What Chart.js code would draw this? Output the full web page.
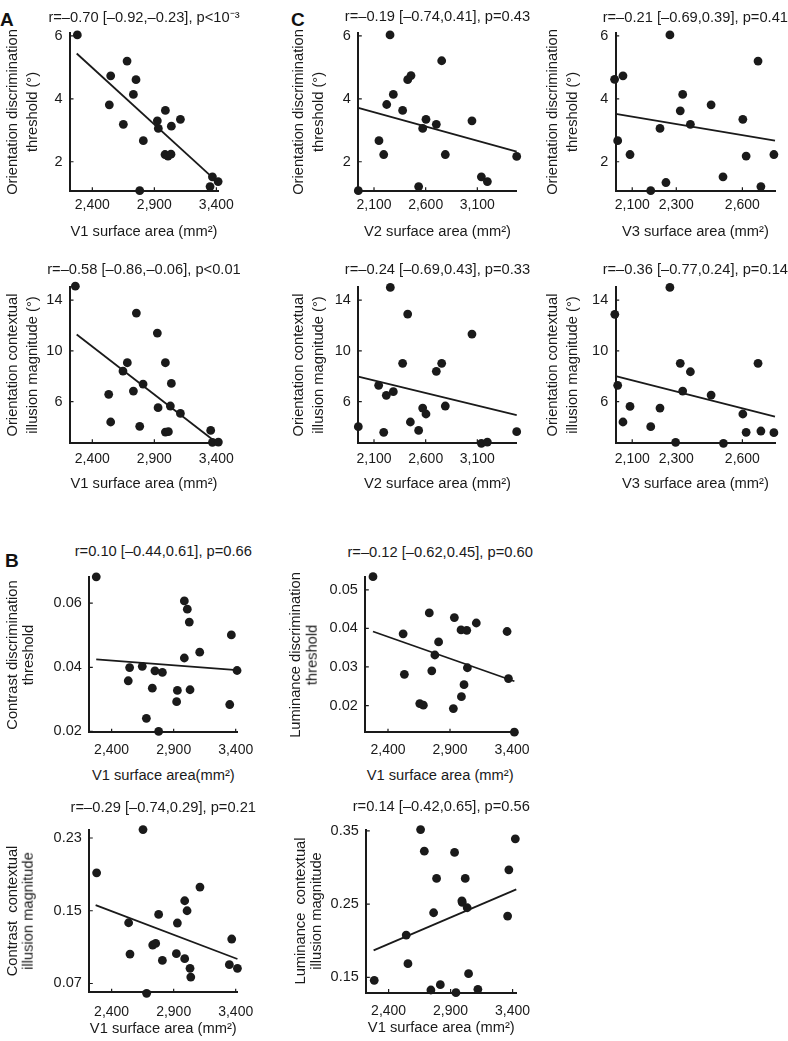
<!DOCTYPE html>
<html><head><meta charset="utf-8">
<script src="https://cdn.jsdelivr.net/npm/chart.js"></script>
<style>
html,body{margin:0;padding:0;background:#fff;}
#fig{position:relative;width:788px;height:1041px;overflow:hidden;background:#fff;}
#fig canvas{position:absolute;}
.t{position:absolute;white-space:pre;font-family:'Liberation Sans',Arial,Helvetica,sans-serif;font-size:14.7px;line-height:1;color:#1a1a1a;transform:translate(-50%,-50%);}
.r{transform:translate(-50%,-50%) rotate(-90deg);}
.lab{position:absolute;font:bold 19px 'Liberation Sans',Arial,sans-serif;line-height:19px;color:#111;}
</style></head><body><div id="fig">
<div class="lab" style="left:0px;top:10px">A</div>
<div class="lab" style="left:291px;top:10px">C</div>
<div class="lab" style="left:5px;top:551px">B</div>
</div>
<script>
// ---------------- data ----------------
const v1Ticks = [2400, 2900, 3400];
const v1TickLabels = ['2,400', '2,900', '3,400'];
const v2Ticks = [2100, 2600, 3100];
const v2TickLabels = ['2,100', '2,600', '3,100'];
const v3Ticks = [2100, 2300, 2600];
const v3TickLabels = ['2,100', '2,300', '2,600'];
const oriThrTicks = [2, 4, 6];
const oriThrTickLabels = ['2', '4', '6'];
const oriIllTicks = [6, 10, 14];
const oriIllTickLabels = ['6', '10', '14'];
const conThrTicks = [0.02, 0.04, 0.06];
const conThrTickLabels = ['0.02', '0.04', '0.06'];
const lumThrTicks = [0.02, 0.03, 0.04, 0.05];
const lumThrTickLabels = ['0.02', '0.03', '0.04', '0.05'];
const conIllTicks = [0.07, 0.15, 0.23];
const conIllTickLabels = ['0.07', '0.15', '0.23'];
const lumIllTicks = [0.15, 0.25, 0.35];
const lumIllTickLabels = ['0.15', '0.25', '0.35'];

// A: V1 vs orientation discrimination threshold
const a1X = [2279, 2548, 2680, 2752, 2731, 2537, 2650, 2811, 2782, 2924, 2932, 2989, 3037, 3110, 2986, 3010, 3034, 3368, 3349, 3414];
const a1Y = [6.03, 4.73, 5.20, 4.61, 4.14, 3.81, 3.19, 2.67, 1.08, 3.30, 3.06, 3.63, 3.13, 3.35, 2.23, 2.18, 2.24, 1.52, 1.21, 1.37];
const a1FitX = [2274, 3376];
const a1FitY = [5.44, 1.47];
// A: V1 vs orientation contextual illusion
const a2X = [2263, 2755, 2924, 2682, 2989, 2647, 2809, 2731, 3037, 2532, 2930, 3029, 3110, 2548, 2782, 2989, 3013, 3354, 3368, 3416];
const a2Y = [15.1, 12.98, 11.41, 9.07, 9.07, 8.41, 7.39, 6.84, 7.44, 6.58, 5.53, 5.66, 5.08, 4.40, 4.06, 3.61, 3.64, 3.74, 2.80, 2.82];
const a2FitX = [2274, 3392];
const a2FitY = [11.30, 2.85];
// C: V2 vs orientation threshold
const c1X = [2255, 1948, 2148, 2194, 2223, 2287, 2377, 2426, 2458, 2532, 2571, 2603, 2703, 2755, 2790, 3048, 3139, 3197, 3481];
const c1Y = [6.03, 1.08, 2.67, 2.23, 3.82, 4.14, 3.63, 4.61, 4.74, 1.21, 3.06, 3.35, 3.19, 5.21, 2.23, 3.30, 1.52, 1.37, 2.17];
const c1FitX = [1948, 3481];
const c1FitY = [3.71, 2.32];
// C: V3 vs orientation threshold
const c2X = [2020, 2058, 2271, 2671, 2034, 2090, 2184, 2226, 2253, 2318, 2329, 2364, 2458, 2512, 2602, 2617, 2684, 2743];
const c2Y = [4.62, 4.73, 6.03, 5.20, 2.67, 2.23, 1.08, 3.06, 1.34, 3.62, 4.14, 3.19, 3.81, 1.52, 3.35, 2.18, 1.21, 2.23];
const c2FitX = [2025, 2748];
const c2FitY = [3.52, 2.67];
// C: V2 vs orientation illusion
const c3X = [2258, 2426, 3048, 2377, 2755, 2703, 2145, 2219, 2287, 2571, 2603, 2790, 2452, 2532, 2194, 1948, 3139, 3197, 3481];
const c3Y = [15.0, 12.9, 11.33, 9.02, 9.02, 8.39, 7.29, 6.50, 6.79, 5.50, 5.03, 5.66, 4.40, 3.74, 3.59, 4.03, 2.72, 2.82, 3.64];
const c3FitX = [1948, 3481];
const c3FitY = [7.97, 4.95];
// C: V3 vs orientation illusion
const c4X = [2021, 2271, 2034, 2318, 2364, 2671, 2329, 2458, 2090, 2226, 2058, 2184, 2602, 2617, 2684, 2743, 2297, 2514];
const c4Y = [12.88, 15.0, 7.29, 9.02, 8.36, 9.02, 6.84, 6.52, 5.63, 5.50, 4.40, 4.03, 5.03, 3.59, 3.69, 3.56, 2.80, 2.72];
const c4FitX = [2025, 2748];
const c4FitY = [8.02, 4.82];
// B: contrast discrimination threshold
const b1X = [2276, 2986, 3010, 3026, 3365, 3110, 2986, 2545, 2647, 2749, 2809, 3411, 2534, 2728, 2930, 3032, 2924, 3352, 2680, 2779];
const b1Y = [0.0682, 0.0607, 0.0581, 0.0541, 0.0501, 0.0447, 0.0429, 0.0399, 0.0403, 0.0389, 0.0384, 0.0390, 0.0358, 0.0335, 0.0328, 0.0330, 0.0293, 0.0284, 0.0241, 0.0200];
const b1FitX = [2276, 3411];
const b1FitY = [0.0425, 0.0391];
// B: luminance discrimination threshold
const b2X = [2279, 2733, 2935, 3112, 2989, 3035, 3360, 2522, 2808, 2778, 2753, 3040, 2532, 3371, 3013, 2992, 2656, 2685, 2927, 3419];
const b2Y = [0.0534, 0.0440, 0.0428, 0.0414, 0.0396, 0.0395, 0.0392, 0.0386, 0.0365, 0.0331, 0.0290, 0.0298, 0.0281, 0.0270, 0.0254, 0.0223, 0.0205, 0.0201, 0.0192, 0.0131];
const b2FitX = [2279, 3419];
const b2FitY = [0.0392, 0.0263];
// B: contrast contextual illusion
const b3X = [2653, 2279, 3112, 2989, 3008, 2779, 2930, 2537, 3368, 2731, 2755, 2548, 2922, 2989, 2809, 3349, 3414, 3032, 3038, 2682];
const b3Y = [0.2393, 0.1917, 0.176, 0.161, 0.150, 0.146, 0.1365, 0.1368, 0.1189, 0.1123, 0.1141, 0.1024, 0.1028, 0.0973, 0.0954, 0.0907, 0.0867, 0.0867, 0.0771, 0.0592];
const b3FitX = [2271, 3414];
const b3FitY = [0.1562, 0.0969];
// B: luminance contextual illusion
const b4X = [2658, 3422, 2688, 2932, 3370, 2787, 3018, 2991, 2994, 3034, 2763, 3360, 2542, 2556, 2284, 3045, 2817, 2741, 3120, 2943];
const b4Y = [0.3518, 0.3391, 0.3223, 0.3205, 0.2968, 0.285, 0.285, 0.2545, 0.2523, 0.245, 0.2382, 0.2336, 0.2077, 0.1686, 0.1459, 0.155, 0.14, 0.1327, 0.1336, 0.1291];
const b4FitX = [2279, 3430];
const b4FitY = [0.1868, 0.270];

// ---------------- panel definitions ----------------
const PANELS = [
  {key:'A1', xs:a1X, ys:a1Y, fx:a1FitX, fy:a1FitY, xr:[2220,3413], yr:[1.08,6.086], xt:v1Ticks, xl:v1TickLabels, yt:oriThrTicks, yl:oriThrTickLabels,
   title:'r=–0.70 [–0.92,–0.23], p<10⁻³', xTitle:'V1 surface area (mm²)', yTitle:['Orientation discrimination','threshold (°)']},
  {key:'A2', xs:a2X, ys:a2Y, fx:a2FitX, fy:a2FitY, xr:[2220,3413], yr:[2.77,15.06], xt:v1Ticks, xl:v1TickLabels, yt:oriIllTicks, yl:oriIllTickLabels,
   title:'r=–0.58 [–0.86,–0.06], p<0.01', xTitle:'V1 surface area (mm²)', yTitle:['Orientation contextual','illusion magnitude (°)']},
  {key:'C1', xs:c1X, ys:c1Y, fx:c1FitX, fy:c1FitY, xr:[1948,3481], yr:[1.08,6.086], xt:v2Ticks, xl:v2TickLabels, yt:oriThrTicks, yl:oriThrTickLabels,
   title:'r=–0.19 [–0.74,0.41], p=0.43', xTitle:'V2 surface area (mm²)', yTitle:['Orientation discrimination','threshold (°)']},
  {key:'C2', xs:c2X, ys:c2Y, fx:c2FitX, fy:c2FitY, xr:[2025,2748], yr:[1.08,6.086], xt:v3Ticks, xl:v3TickLabels, yt:oriThrTicks, yl:oriThrTickLabels,
   title:'r=–0.21 [–0.69,0.39], p=0.41', xTitle:'V3 surface area (mm²)', yTitle:['Orientation discrimination','threshold (°)']},
  {key:'C3', xs:c3X, ys:c3Y, fx:c3FitX, fy:c3FitY, xr:[1948,3481], yr:[2.77,15.06], xt:v2Ticks, xl:v2TickLabels, yt:oriIllTicks, yl:oriIllTickLabels,
   title:'r=–0.24 [–0.69,0.43], p=0.33', xTitle:'V2 surface area (mm²)', yTitle:['Orientation contextual','illusion magnitude (°)']},
  {key:'C4', xs:c4X, ys:c4Y, fx:c4FitX, fy:c4FitY, xr:[2025,2748], yr:[2.77,15.06], xt:v3Ticks, xl:v3TickLabels, yt:oriIllTicks, yl:oriIllTickLabels,
   title:'r=–0.36 [–0.77,0.24], p=0.14', xTitle:'V3 surface area (mm²)', yTitle:['Orientation contextual','illusion magnitude (°)']},
  {key:'B1', xs:b1X, ys:b1Y, fx:b1FitX, fy:b1FitY, xr:[2220,3413], yr:[0.01974,0.06805], xt:v1Ticks, xl:v1TickLabels, yt:conThrTicks, yl:conThrTickLabels,
   title:'r=0.10 [–0.44,0.61], p=0.66', xTitle:'V1 surface area(mm²)', yTitle:['Contrast discrimination','threshold']},
  {key:'B2', xs:b2X, ys:b2Y, fx:b2FitX, fy:b2FitY, xr:[2217,3424], yr:[0.01306,0.05325], xt:v1Ticks, xl:v1TickLabels, yt:lumThrTicks, yl:lumThrTickLabels,
   title:'r=–0.12 [–0.62,0.45], p=0.60', xTitle:'V1 surface area (mm²)', yTitle:['Luminance discrimination','threshold']},
  {key:'B3', xs:b3X, ys:b3Y, fx:b3FitX, fy:b3FitY, xr:[2220,3413], yr:[0.0603,0.2386], xt:v1Ticks, xl:v1TickLabels, yt:conIllTicks, yl:conIllTickLabels,
   title:'r=–0.29 [–0.74,0.29], p=0.21', xTitle:'V1 surface area (mm²)', yTitle:['Contrast  contextual','illusion magnitude']},
  {key:'B4', xs:b4X, ys:b4Y, fx:b4FitX, fy:b4FitY, xr:[2220,3430], yr:[0.1293,0.3509], xt:v1Ticks, xl:v1TickLabels, yt:lumIllTicks, yl:lumIllTickLabels,
   title:'r=0.14 [–0.42,0.65], p=0.56', xTitle:'V1 surface area (mm²)', yTitle:['Luminance  contextual','illusion magnitude']}
];

// ---------------- layout (page pixels) ----------------
const LAYOUT = {
  A1:{L:70, R:218, T:33, B:190.7, titleY:16.5, yT:[11.7,31.7], tickMid:205.3, xTitleY:230.5},
  A2:{L:70, R:218, T:286.7, B:442.7, titleY:268.5, yT:[11.7,31.7], tickMid:459, xTitleY:483},
  C1:{L:358.3, R:516.7, T:33, B:190.7, titleY:16.3, yT:[297.5,317.5], tickMid:205.3, xTitleY:230.5},
  C2:{L:615.7, R:775, T:33, B:190.7, titleY:16.5, yT:[551.5,571.5], tickMid:205, xTitleY:230.5},
  C3:{L:358.3, R:516.7, T:286.7, B:442.7, titleY:269, yT:[297.5,317.5], tickMid:459, xTitleY:483},
  C4:{L:615.7, R:775, T:286.7, B:442.7, titleY:269, yT:[551.5,571.5], tickMid:459, xTitleY:483},
  B1:{L:89.3, R:237.3, T:577.3, B:732.3, titleY:551, yT:[11.7,28.3], tickMid:750, xTitleY:775},
  B2:{L:365.3, R:515, T:577.3, B:732.3, titleY:552, yT:[295,311.7], tickMid:750, xTitleY:775},
  B3:{L:89.3, R:237.3, T:830, B:992.3, titleY:806.5, yT:[11.7,28.3], tickMid:1012, xTitleY:1027.5},
  B4:{L:366.3, R:516.3, T:830, B:992.5, titleY:806, yT:[300,316], tickMid:1011, xTitleY:1026.5}
};

const INK = '#1a1a1a';
const FONT = "'Liberation Sans', Arial, Helvetica, sans-serif";
Chart.defaults.font.family = FONT;
Chart.defaults.color = INK;

const inwardTicks = {
  id: 'inwardTicks',
  beforeDatasetsDraw(chart) {
    const {ctx, chartArea: a, scales: {x, y}} = chart;
    ctx.save();
    ctx.strokeStyle = INK; ctx.lineWidth = 1.2;
    ctx.beginPath();
    x.ticks.forEach(t => { const p = x.getPixelForValue(t.value); ctx.moveTo(p, a.bottom); ctx.lineTo(p, a.bottom - 3.5); });
    y.ticks.forEach(t => { const p = y.getPixelForValue(t.value); ctx.moveTo(a.left, p); ctx.lineTo(a.left + 3.5, p); });
    ctx.stroke();
    ctx.restore();
  }
};

const fig = document.getElementById('fig');
function addText(txt, x, y, rot) {
  const d = document.createElement('div');
  d.className = rot ? 't r' : 't';
  d.textContent = txt;
  d.style.left = x + 'px';
  d.style.top = y + 'px';
  fig.appendChild(d);
}

function makePanel(p) {
  const g = LAYOUT[p.key];
  const cx = Math.floor(g.L - 62), cy = Math.floor(g.T - 16);
  const cw = Math.ceil(g.R + 30 - cx), ch = Math.ceil(g.B + 32 - cy);
  const cv = document.createElement('canvas');
  cv.width = cw; cv.height = ch;
  cv.style.left = cx + 'px'; cv.style.top = cy + 'px';
  cv.style.width = cw + 'px'; cv.style.height = ch + 'px';
  fig.appendChild(cv);
  const xAxisH = ch - (g.B - cy);
  const pts = p.xs.map((v, i) => ({x: v, y: p.ys[i]}));
  const fit = p.fx.map((v, i) => ({x: v, y: p.fy[i]}));
  new Chart(cv, {
    type: 'scatter',
    data: {datasets: [
      {data: pts, backgroundColor: INK, borderWidth: 0, pointRadius: 4.4, pointHoverRadius: 4.4, clip: false},
      {data: fit, showLine: true, borderColor: INK, borderWidth: 1.8, pointRadius: 0, clip: false, fill: false}
    ]},
    options: {
      responsive: false, maintainAspectRatio: false, animation: false, events: [], devicePixelRatio: 1,
      layout: {padding: {left: 0, top: g.T - cy, right: cw - (g.R - cx), bottom: 0}},
      plugins: {legend: {display: false}, tooltip: {enabled: false}, title: {display: false}},
      scales: {
        x: {type: 'linear', position: 'bottom', bounds: 'data', min: p.xr[0], max: p.xr[1],
            afterBuildTicks: s => { s.ticks = p.xt.map(v => ({value: v})); },
            afterFit: s => { s.height = xAxisH; },
            ticks: {callback: (v, i) => p.xl[i], padding: g.tickMid - g.B - 8.4, font: {size: 14}, color: INK, maxRotation: 0, minRotation: 0, autoSkip: false},
            grid: {display: false, drawTicks: false},
            border: {display: true, width: 2, color: INK}},
        y: {type: 'linear', position: 'left', bounds: 'data', min: p.yr[0], max: p.yr[1],
            afterBuildTicks: s => { s.ticks = p.yt.map(v => ({value: v})); },
            afterFit: s => { s.width = g.L - cx; },
            ticks: {callback: (v, i) => p.yl[i], padding: 7.5, font: {size: 14.5}, color: INK, autoSkip: false},
            grid: {display: false, drawTicks: false},
            border: {display: true, width: 2, color: INK}}
      }
    },
    plugins: [inwardTicks]
  });
  const midX = (g.L + g.R) / 2, midY = (g.T + g.B) / 2;
  addText(p.title, midX, g.titleY, false);
  addText(p.xTitle, midX, g.xTitleY, false);
  p.yTitle.forEach((line, i) => addText(line, g.yT[i], midY, true));
}

PANELS.forEach(makePanel);
</script></body></html>
